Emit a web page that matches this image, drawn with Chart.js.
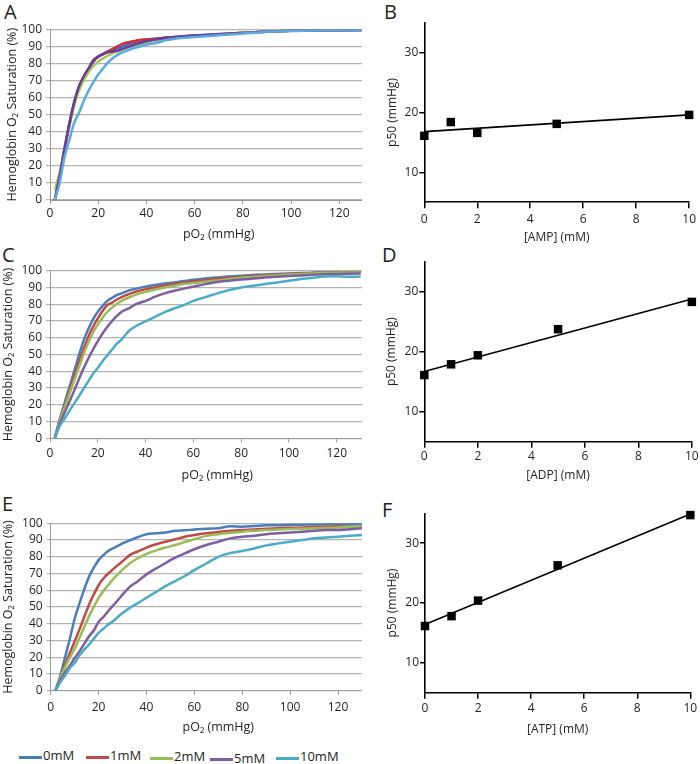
<!DOCTYPE html>
<html><head><meta charset="utf-8">
<script src="https://cdn.jsdelivr.net/npm/chart.js@4.4.0/dist/chart.umd.min.js"></script>
<style>
body{margin:0;width:700px;height:764px;background:#fff;position:relative;overflow:hidden;font-family:'Open Sans',sans-serif;color:#231f20}
.wrap{position:absolute;overflow:hidden}
.wrap canvas{position:absolute;left:0;top:0}
.pl{position:absolute;font-size:20px;line-height:20px;color:#231f20}
.lg{position:absolute;height:3px}
.lt{position:absolute;font-size:13px;line-height:13px;color:#231f20;white-space:nowrap}
</style></head>
<body>
<div class="pl" style="left:4px;top:1.5px">A</div>
<div class="pl" style="left:384px;top:1.5px">B</div>
<div class="pl" style="left:2px;top:244.5px">C</div>
<div class="pl" style="left:382px;top:244.5px">D</div>
<div class="pl" style="left:2px;top:493.5px">E</div>
<div class="pl" style="left:382px;top:499.5px">F</div>

<div class="wrap" style="left:0;top:0;width:362px;height:250px"><canvas id="cA" width="400" height="250"></canvas></div>
<div class="wrap" style="left:0;top:250px;width:362px;height:250px"><canvas id="cC" width="400" height="250"></canvas></div>
<div class="wrap" style="left:0;top:500px;width:362px;height:240px"><canvas id="cE" width="400" height="240"></canvas></div>
<div class="wrap" style="left:380px;top:0;width:320px;height:250px"><canvas id="cB" width="320" height="250"></canvas></div>
<div class="wrap" style="left:380px;top:250px;width:320px;height:250px"><canvas id="cD" width="320" height="250"></canvas></div>
<div class="wrap" style="left:380px;top:500px;width:320px;height:264px"><canvas id="cF" width="320" height="264"></canvas></div>
<div id="legend"></div>

<script>
// ---------- data ----------
const concLabels = ['0mM','1mM','2mM','5mM','10mM'];
const pO2 = [2,4,6,8,10,12,14,16,18,20,22,24,26,28,30,33,36,40,44,48,52,56,60,65,70,75,80,85,90,95,100,105,110,115,120,125,130];

// Panel A (AMP)
const ampSat0  = [0,14,30,45,57,66,72,77,81,84,85.5,87,88,89,90,91.5,93,94,94.5,95,95.5,96,96.5,96.8,97.2,97.6,98,98.3,98.6,98.9,99.1,99.2,99.3,99.4,99.5,99.5,99.6];
const ampSat1  = [0,13,29,44,57,66,72,77,82,84,85.5,87,88.5,90,91.5,92.5,93.5,94,94.5,95,95.5,95.8,96,96.5,97,97.5,98,98.3,98.6,99,99.2,99.3,99.4,99.5,99.5,99.6,99.6];
const ampSat2  = [6,16,30,43,55,64,70,75,78.5,81,83,84.5,86,87,88,89.5,90.5,91.5,92.5,94,95,95.5,96,96.5,97,97.5,98,98.3,98.6,98.9,99.1,99.2,99.3,99.4,99.5,99.5,99.6];
const ampSat5  = [0,14,30,44,57,66.5,72.5,77,81.5,84,85.5,86.5,87,87.5,88.5,90,91.5,93,94,95,95.5,96,96.3,96.7,97.1,97.5,97.9,98.3,98.6,98.9,99.1,99.2,99.3,99.4,99.5,99.5,99.6];
const ampSat10 = [0,10,25,35,45,51,58,64,69,73.5,77,80.5,83,85,86.5,88,89.5,91,92,93.5,94.5,95,95.5,96,96.5,97,97.5,98,98.5,98.8,99,99.2,99.3,99.4,99.5,99.5,99.6];

// Panel C (ADP)
const adpSat0  = [0,11,20.5,30,39.5,49,58,65,71,75.5,79,82,83.8,85.5,86.5,88.2,89.2,90.5,91.5,92.3,93,93.8,94.6,95.4,96,96.5,97,97.4,97.8,98.1,98.4,98.6,98.8,99,99.1,99.2,99.3];
const adpSat1  = [0,10.5,19,27.5,36.5,45,53,60.5,66.5,71.5,76,79.5,81,82.8,84.3,86,87.5,89,90,91.2,92,92.8,93.6,94.4,95.2,95.8,96.4,96.9,97.3,97.7,98,98.3,98.6,98.8,99,99.1,99.2];
const adpSat2  = [0,10,18,26,34,42,50,57,63,68,72,75.5,78,80.3,82,84,85.7,87.4,88.8,90,91,92,92.6,93.4,94.2,95,95.8,96.3,96.8,97.3,97.7,98,98.3,98.6,98.8,99,99];
const adpSat5  = [0,8.5,15,21.5,28,35,41.5,47.5,53,58,62.5,66.5,70,73,75.5,77.5,80,82,84.5,86.5,88,89.3,90.5,92,93.3,94,94.7,95.3,95.9,96.4,96.8,97.2,97.6,97.9,98.1,98.2,98.3];
const adpSat10 = [0,7,11.5,16,20.5,24.8,29.5,34,38.5,42,46,49.5,53,56.5,59,64,67,69.8,72.5,75.3,77.5,79.5,82,84.2,86.5,88.5,90,91,92,93,94,95,95.8,96.5,96.7,96.4,96.5];

// Panel E (ATP)
const atpSat0  = [0,9,20,31,43,52,60.5,68,73.5,78,81,83.5,85,86.5,88,89.8,91.5,93.5,94,94.5,95.5,95.8,96.3,96.8,97,98.2,98,98.4,98.8,98.8,99,99.2,99.3,99.4,99.5,99.5,99.6];
const atpSat1  = [0,8,15.5,22.5,29.5,36.5,44,51.4,57.5,63,67,70,72.5,75,77.3,81,83,85.5,87.5,89,90.5,92,93,94,94.8,95.5,96,96.3,96.8,97,97.3,97.5,97.8,98,98.2,98,98];
const atpSat2  = [0,8,14,20,25,31.5,38,44.4,50,55.5,59.5,63,66.5,69.5,72.3,76,78.8,81.7,83.8,85.5,87,88.8,90.5,92.5,93.5,94.3,95,95.5,96,96.3,96.6,96.8,97,97.2,97.5,97.8,98];
const atpSat5  = [0,6.5,11,15,19.5,23.5,28,32.5,36,41,44,47.5,50.8,54,57.4,62,65,69.5,73,76.3,79.5,82,84.5,87,89,91,92,92.5,93.5,94,94.5,95,95.5,96,96,96.5,97];
const atpSat10 = [0,5,9,13.5,16.5,21,24.5,27.5,31,34.5,37,39.5,41.5,44,46.4,49.5,52,55.5,59,62.5,65.5,68.5,72,76,80,82.3,83.5,85,86.8,88,89,90,91,91.5,92,92.5,93];

// p50 panels
const nucleotideConc = [0,1,2,5,10];
const ampP50 = [16.1,18.4,16.6,18.1,19.6];
const adpP50 = [16.1,17.9,19.4,23.75,28.3];
const atpP50 = [16.15,17.8,20.4,26.3,34.7];
const fitConc = [0,10];
const ampFit = [16.8,19.6];
const adpFit = [16.7,28.8];
const atpFit = [16.4,34.9];

// ticks
const pO2Ticks = [0,20,40,60,80,100,120];
const satTicks = [0,10,20,30,40,50,60,70,80,90,100];
const concTicks = [0,2,4,6,8,10];
const p50Ticks = [10,20,30];

// ---------- drawing ----------
Chart.defaults.font.family = "'Open Sans', sans-serif";
Chart.defaults.color = '#231f20';
const TXT = '#231f20';
const colsA = ['#3d6fc0','#d22a2f','#a6c84f','#6a3d9a','#5aaae4'];
const colsCE = ['#4a7ebb','#be4b48','#9bbb59','#7d5fa0','#4bacc6'];

function tickSetter(arr){ return s => { s.ticks = arr.map(v => ({value:v})); }; }

function curveChart(id, sats, cols, c) {
  const datasets = sats.map((arr,i) => ({
    label: concLabels[i],
    data: arr.map((v,j) => ({x:pO2[j], y:v})),
    borderColor: cols[i], backgroundColor: cols[i],
    borderWidth: 2.5, pointRadius: 0, fill: false,
    cubicInterpolationMode: 'monotone', order: 5 - i
  }));
  new Chart(document.getElementById(id), {
    type: 'line',
    data: {datasets},
    options: {
      responsive: false, animation: false, devicePixelRatio: 1,
      layout: {padding: {left:0, right:c.padR, top:c.top, bottom:0}},
      plugins: {legend:{display:false}, tooltip:{enabled:false}},
      scales: {
        x: {type:'linear', min:0, max:140,
            afterBuildTicks: tickSetter(pO2Ticks),
            afterFit: s => { s.height = c.xH; },
            grid: {display:true, drawOnChartArea:false, drawTicks:true, tickLength:4, color:'#9a9a9a', lineWidth:1},
            border: {display:true, color:'#9a9a9a', width:1},
            ticks: {padding:c.xPad, font:{size:12}, color:TXT, maxRotation:0, autoSkip:false},
            title: {display:true, text:'pO₂ (mmHg)', font:{size:12.5}, color:TXT, padding:{top:0, bottom:c.xtPad}}},
        y: {min:0, max:100,
            afterBuildTicks: tickSetter(satTicks),
            afterFit: s => { s.width = c.yW; },
            grid: {color:'#b3b3b3', lineWidth:1.2, tickLength:4, drawTicks:true},
            border: {display:true, color:'#9a9a9a', width:1},
            ticks: {padding:4, font:{size:12}, color:TXT, autoSkip:false},
            title: {display:true, text:'Hemoglobin O₂ Saturation (%)', font:{size:12.5}, color:TXT, padding:{top:c.ytPad, bottom:0}}}
      }
    }
  });
}

function p50Chart(id, p50, fit, xTitle, c) {
  new Chart(document.getElementById(id), {
    type: 'scatter',
    data: {datasets: [
      {data: nucleotideConc.map((x,i) => ({x, y:p50[i]})), pointStyle:'rect', pointRadius:6,
       backgroundColor:'#000', borderColor:'#000', borderWidth:0, showLine:false, clip:false},
      {type:'line', data: fitConc.map((x,i) => ({x, y:fit[i]})), borderColor:'#000', borderWidth:1.6,
       pointRadius:0, showLine:true, fill:false, clip:false}
    ]},
    options: {
      responsive: false, animation: false, devicePixelRatio: 1,
      layout: {padding: {left:0, right:c.padR, top:c.top, bottom:0}},
      plugins: {legend:{display:false}, tooltip:{enabled:false}},
      scales: {
        x: {type:'linear', min:0, max:10,
            afterBuildTicks: tickSetter(concTicks),
            afterFit: s => { s.height = c.xH; },
            grid: {display:true, drawOnChartArea:false, drawTicks:true, tickLength:6, color:'#000', lineWidth:1.5},
            border: {display:true, color:'#000', width:1.6},
            ticks: {padding:c.xPad, font:{size:12}, color:TXT, maxRotation:0, autoSkip:false},
            title: {display:true, text:xTitle, font:{size:12}, color:TXT, padding:{top:0, bottom:c.xtPad}}},
        y: {min:5, max:35,
            afterBuildTicks: tickSetter(p50Ticks),
            afterFit: s => { s.width = c.yW; },
            grid: {display:true, drawOnChartArea:false, drawTicks:true, tickLength:5, color:'#000', lineWidth:1.5},
            border: {display:true, color:'#000', width:1.6},
            ticks: {padding:1, font:{size:12}, color:TXT, autoSkip:false},
            title: {display:true, text:'p50 (mmHg)', font:{size:12}, color:TXT, padding:{top:c.ytPad, bottom:0}}}
      }
    }
  });
}

curveChart('cA', [ampSat0,ampSat1,ampSat2,ampSat5,ampSat10], colsA,
  {padR:12.6, top:29.3, xH:50, yW:50, xPad:2.1, xtPad:7.8, ytPad:4.8});
curveChart('cC', [adpSat0,adpSat1,adpSat2,adpSat5,adpSat10], colsCE,
  {padR:15.5, top:20.7, xH:61.7, yW:50, xPad:3.8, xtPad:16.8, ytPad:0.8});
curveChart('cE', [atpSat0,atpSat1,atpSat2,atpSat5,atpSat10], colsCE,
  {padR:14.1, top:23.3, xH:49.3, yW:50.7, xPad:5.6, xtPad:4.8, ytPad:0.8});

p50Chart('cB', ampP50, ampFit, '[AMP] (mM)', {padR:6.7, top:22.7, xH:47.7, yW:44.3, xPad:4, xtPad:4.8, ytPad:5.8});
p50Chart('cD', adpP50, adpFit, '[ADP] (mM)', {padR:6.7, top:11.7, xH:58.3, yW:44.3, xPad:1.3, xtPad:16.8, ytPad:4.8});
p50Chart('cF', atpP50, atpFit, '[ATP] (mM)', {padR:6, top:13.3, xH:71.3, yW:45, xPad:2.8, xtPad:26.8, ytPad:5.8});

// legend (HTML, real text)
const legendPos = [
  {lx:19, tx:43, y:757, ty:749},
  {lx:86, tx:110, y:757, ty:749},
  {lx:150, tx:174, y:758, ty:750},
  {lx:210, tx:234, y:759, ty:752},
  {lx:276, tx:300, y:758, ty:750}
];
const lg = document.getElementById('legend');
concLabels.forEach((lab,i) => {
  const p = legendPos[i];
  const ln = document.createElement('div');
  ln.className = 'lg';
  ln.style.cssText = `left:${p.lx}px;top:${p.y-1.5}px;width:23px;background:${colsCE[i]}`;
  lg.appendChild(ln);
  const t = document.createElement('div');
  t.className = 'lt';
  t.style.cssText = `left:${p.tx}px;top:${p.ty}px`;
  t.textContent = lab;
  lg.appendChild(t);
});
</script>
</body></html>
